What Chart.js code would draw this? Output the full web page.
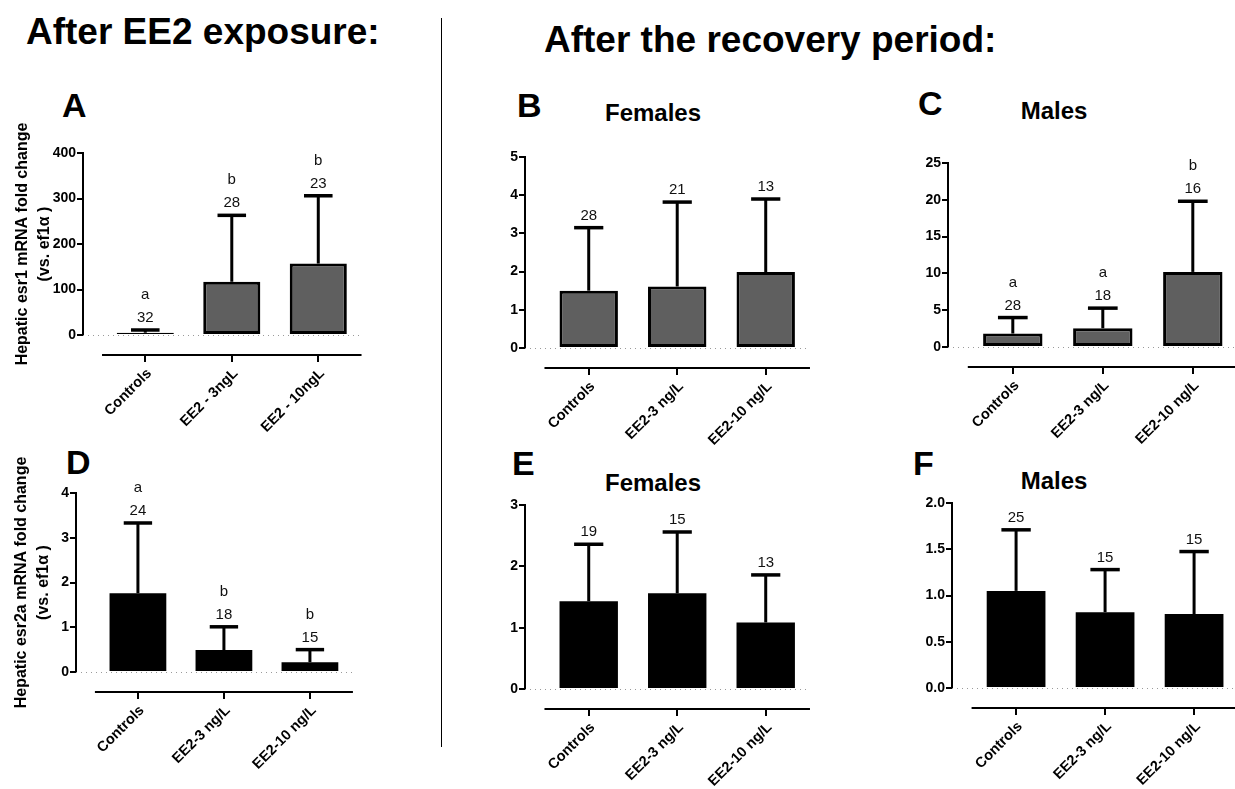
<!DOCTYPE html>
<html>
<head>
<meta charset="utf-8">
<title>Hepatic esr1 / esr2a expression</title>
<script src="https://cdn.jsdelivr.net/npm/chart.js@4.4.1/dist/chart.umd.min.js"></script>
<style>
  html, body { margin: 0; padding: 0; background: #fff; overflow: hidden; }
  body { width: 1235px; height: 789px; position: relative; font-family: "Liberation Sans", Arial, sans-serif; }
  canvas { position: absolute; }
  .txt { position: absolute; font-weight: bold; color: #000; white-space: nowrap; }
  .heading { font-size: 37px; line-height: 37px; }
  .letter { font-size: 34px; line-height: 34px; }
  .ptitle { font-size: 24px; line-height: 24px; width: 200px; text-align: center; }
  #divider { position: absolute; left: 441px; top: 18px; width: 1px; height: 729px; background: #000; }
</style>
</head>
<body>
<div class="txt heading" style="left:26px; top:13px">After EE2 exposure:</div>
<div class="txt heading" style="left:544px; top:21px">After the recovery period:</div>
<div id="divider"></div>

<div class="txt letter" style="left:62px; top:88px">A</div>
<div class="txt letter" style="left:517px; top:88px">B</div>
<div class="txt letter" style="left:918px; top:86px">C</div>
<div class="txt letter" style="left:66px; top:445px">D</div>
<div class="txt letter" style="left:512px; top:446px">E</div>
<div class="txt letter" style="left:913px; top:446px">F</div>

<div class="txt ptitle" style="left:553px; top:101px">Females</div>
<div class="txt ptitle" style="left:954px; top:99px">Males</div>
<div class="txt ptitle" style="left:553px; top:471px">Females</div>
<div class="txt ptitle" style="left:954px; top:469px">Males</div>

<script>
// groups on the x axis
const exposureGroups = ["Controls", "EE2 - 3ngL", "EE2 - 10ngL"];
const recoveryGroups = ["Controls", "EE2-3 ng/L", "EE2-10 ng/L"];

// A: esr1 after exposure
const esr1ExpMean = [5, 117, 157];
const esr1ExpSD = [6, 146, 149];
const esr1ExpN = [32, 28, 23];
const esr1ExpLetters = ["a", "b", "b"];
const yTicksA = [0, 100, 200, 300, 400];

// B: esr1 after recovery, females
const esr1FemMean = [1.50, 1.61, 1.99];
const esr1FemSD = [1.65, 2.21, 1.91];
const esr1FemN = [28, 21, 13];
const yTicksB = [0, 1, 2, 3, 4, 5];

// C: esr1 after recovery, males
const esr1MalMean = [1.83, 2.55, 10.2];
const esr1MalSD = [2.17, 2.73, 9.6];
const esr1MalN = [28, 18, 16];
const esr1MalLetters = ["a", "a", "b"];
const yTicksC = [0, 5, 10, 15, 20, 25];

// D: esr2a after exposure
const esr2aExpMean = [1.76, 0.49, 0.22];
const esr2aExpSD = [1.57, 0.52, 0.28];
const esr2aExpN = [24, 18, 15];
const esr2aExpLetters = ["a", "b", "b"];
const yTicksD = [0, 1, 2, 3, 4];

// E: esr2a after recovery, females
const esr2aFemMean = [1.43, 1.56, 1.085];
const esr2aFemSD = [0.93, 1.00, 0.775];
const esr2aFemN = [19, 15, 13];
const yTicksE = [0, 1, 2, 3];

// F: esr2a after recovery, males
const esr2aMalMean = [1.05, 0.82, 0.80];
const esr2aMalSD = [0.66, 0.46, 0.675];
const esr2aMalN = [25, 15, 15];
const yTicksF = [0, 0.5, 1.0, 1.5, 2.0];

const FONT = '"Liberation Sans", Arial, Helvetica, sans-serif';
const GRAY = "#5f5f5f";
const X_MIN = -0.72;
const X_MAX = 2.5;

// dotted zero line, error bars, n / letters, the detached x axis and the y title
const barMarks = {
  id: "barMarks",
  beforeDatasetsDraw(chart) {
    const { ctx, chartArea, scales } = chart;
    const y0 = Math.round(scales.y.getPixelForValue(0)) + 0.5;
    ctx.save();
    ctx.strokeStyle = "#9a9a9a";
    ctx.lineWidth = 1;
    ctx.setLineDash([1, 4]);
    ctx.beginPath();
    ctx.moveTo(chartArea.left, y0);
    ctx.lineTo(chartArea.right, y0);
    ctx.stroke();
    ctx.restore();
  },
  afterDatasetsDraw(chart, args, opts) {
    const { ctx, scales } = chart;
    const meta = chart.getDatasetMeta(0);
    ctx.save();
    ctx.strokeStyle = "#000";
    ctx.fillStyle = "#111";
    ctx.font = "15px " + FONT;
    ctx.textAlign = "center";
    ctx.textBaseline = "middle";
    meta.data.forEach((bar, i) => {
      const top = scales.y.getPixelForValue(opts.mean[i] + opts.sd[i]);
      const half = bar.width * 0.25;
      ctx.lineWidth = 3;
      ctx.beginPath();
      ctx.moveTo(bar.x, bar.y);
      ctx.lineTo(bar.x, top);
      ctx.stroke();
      ctx.lineWidth = 3.5;
      ctx.beginPath();
      ctx.moveTo(bar.x - half, top);
      ctx.lineTo(bar.x + half, top);
      ctx.stroke();
      ctx.fillText(String(opts.n[i]), bar.x, top - 12);
      if (opts.letters) ctx.fillText(opts.letters[i], bar.x, top - 35);
    });
    ctx.restore();
  },
  afterDraw(chart, args, opts) {
    const { ctx, chartArea, scales } = chart;
    const xs = scales.x;
    const yLine = Math.round(chartArea.bottom + 20);
    ctx.save();
    ctx.strokeStyle = "#000";
    ctx.lineWidth = 2;
    ctx.beginPath();
    ctx.moveTo(xs.getPixelForValue(-0.5), yLine);
    ctx.lineTo(xs.getPixelForValue(2.5), yLine);
    opts.groups.forEach((g, i) => {
      const px = Math.round(xs.getPixelForValue(i));
      ctx.moveTo(px, yLine);
      ctx.lineTo(px, yLine + 7);
    });
    ctx.stroke();

    if (opts.yTitle) {
      const cy = (chartArea.top + chartArea.bottom) / 2;
      ctx.fillStyle = "#000";
      ctx.font = "bold 16px " + FONT;
      ctx.textAlign = "center";
      ctx.textBaseline = "middle";
      opts.yTitle.forEach((line, k) => {
        ctx.save();
        ctx.translate(opts.yTitleX[k], cy);
        ctx.rotate(-Math.PI / 2);
        ctx.fillText(line, 0, 0);
        ctx.restore();
      });
    }
    ctx.restore();
  },
};

function makePanel(p) {
  const padTop = 60;
  const xAxisH = 105;
  const yW = p.axisX - p.left;
  const plotW = (X_MAX - X_MIN) * p.spacing;
  const width = Math.ceil(yW + plotW);
  const height = padTop + (p.bottom - p.top) + xAxisH;

  const canvas = document.createElement("canvas");
  canvas.width = width;
  canvas.height = height;
  canvas.style.left = p.left + "px";
  canvas.style.top = (p.top - padTop) + "px";
  document.body.appendChild(canvas);

  const yMax = p.yTicks[p.yTicks.length - 1];

  return new Chart(canvas.getContext("2d"), {
    type: "bar",
    data: {
      datasets: [{
        data: p.mean.map((v, i) => ({ x: i, y: v })),
        backgroundColor: p.fill,
        borderColor: "#000",
        borderWidth: p.fill === GRAY ? 3 : 0,
        borderSkipped: false,
        categoryPercentage: 1,
        barPercentage: 0.66,
      }],
    },
    options: {
      responsive: false,
      animation: false,
      devicePixelRatio: 1,
      layout: { padding: { top: padTop, left: 0, right: width - yW - plotW, bottom: 0 } },
      plugins: {
        legend: { display: false },
        tooltip: { enabled: false },
        barMarks: { mean: p.mean, sd: p.sd, n: p.n, letters: p.letters, groups: p.groups,
          yTitle: p.yTitle, yTitleX: p.yTitleX },
      },
      scales: {
        x: {
          type: "linear",
          offset: false,
          min: X_MIN,
          max: X_MAX,
          afterBuildTicks: (s) => { s.ticks = p.groups.map((g, i) => ({ value: i })); },
          afterFit: (s) => { s.height = xAxisH; },
          grid: { display: false, drawTicks: false, offset: false },
          border: { display: false },
          ticks: {
            autoSkip: false,
            minRotation: 45,
            maxRotation: 45,
            padding: 30,
            labelOffset: 4,
            color: "#000",
            font: { family: FONT, size: 14.5, weight: "bold" },
            callback: (v) => p.groups[Math.round(v)],
          },
        },
        y: {
          min: 0,
          max: yMax,
          afterBuildTicks: (s) => { s.ticks = p.yTicks.map((v) => ({ value: v })); },
          afterFit: (s) => { s.width = yW; },
          grid: { display: true, drawOnChartArea: false, drawTicks: true, tickLength: 6, color: "#000", lineWidth: 2 },
          border: { display: true, color: "#000", width: 2 },
          ticks: {
            padding: 1,
            color: "#000",
            font: { family: FONT, size: 14, weight: "bold" },
            callback: (v) => p.decimals ? v.toFixed(p.decimals) : String(v),
          },
        },
      },
    },
    plugins: [barMarks],
  });
}

makePanel({ groups: exposureGroups, mean: esr1ExpMean, sd: esr1ExpSD, n: esr1ExpN, letters: esr1ExpLetters,
  yTicks: yTicksA, fill: GRAY, left: 0, axisX: 83, top: 153, bottom: 335, spacing: 86.5,
  yTitle: ["Hepatic esr1 mRNA fold change", "(vs. ef1\u03B1 )"], yTitleX: [23, 45] });
makePanel({ groups: recoveryGroups, mean: esr1FemMean, sd: esr1FemSD, n: esr1FemN,
  yTicks: yTicksB, fill: GRAY, left: 465, axisX: 525, top: 157, bottom: 348, spacing: 88.5 });
makePanel({ groups: recoveryGroups, mean: esr1MalMean, sd: esr1MalSD, n: esr1MalN, letters: esr1MalLetters,
  yTicks: yTicksC, fill: GRAY, left: 888, axisX: 948, top: 163, bottom: 347, spacing: 90 });
makePanel({ groups: recoveryGroups, mean: esr2aExpMean, sd: esr2aExpSD, n: esr2aExpN, letters: esr2aExpLetters,
  yTicks: yTicksD, fill: "#000", left: 0, axisX: 76, top: 493, bottom: 672, spacing: 86,
  yTitle: ["Hepatic esr2a mRNA fold change", "(vs. ef1\u03B1 )"], yTitleX: [22, 44] });
makePanel({ groups: recoveryGroups, mean: esr2aFemMean, sd: esr2aFemSD, n: esr2aFemN,
  yTicks: yTicksE, fill: "#000", left: 465, axisX: 525, top: 505, bottom: 689, spacing: 88.5 });
makePanel({ groups: recoveryGroups, mean: esr2aMalMean, sd: esr2aMalSD, n: esr2aMalN,
  yTicks: yTicksF, fill: "#000", left: 890, axisX: 952, top: 503, bottom: 688, spacing: 89, decimals: 1 });
</script>
</body>
</html>
